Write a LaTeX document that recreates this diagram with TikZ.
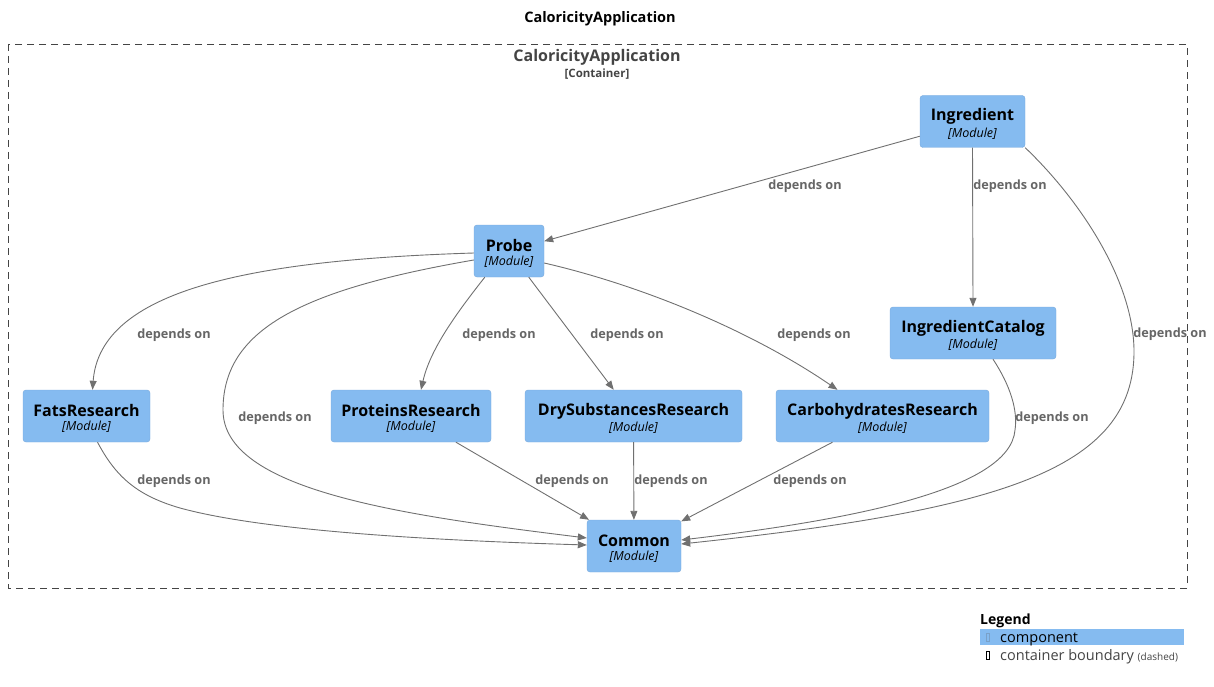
\documentclass[tikz,border=0pt]{standalone}
\usepackage{fontspec}
\setmainfont{Open Sans}
\usetikzlibrary{arrows.meta,calc}
\definecolor{nodeblue}{HTML}{85BBF0}
\definecolor{nodeedge}{HTML}{78A9DC}
\definecolor{edgegray}{HTML}{707070}
\definecolor{labelgray}{HTML}{666666}
\definecolor{boundgray}{HTML}{444444}
\tikzset{
  module/.style={draw=nodeedge, line width=0.4pt, fill=nodeblue, rounded corners=3pt,
    minimum height=52pt, inner sep=0pt, align=center, text=black},
  dep/.style={draw=edgegray, line width=0.9pt, -{Triangle[length=9pt,width=7pt]}},
  deplabel/.style={font=\fontsize{12.7}{14}\selectfont\bfseries, text=labelgray, inner sep=0pt},
}
\newcommand{\modtext}[1]{{\fontsize{16}{18}\selectfont\bfseries\rule{0pt}{17pt}#1}\\[2pt]{\fontsize{12.5}{13}\selectfont\itshape [Module]}}
\begin{document}
\begin{tikzpicture}[x=1pt,y=-1pt]
\useasboundingbox (0,0) rectangle (1214,687);
% title
\node[font=\fontsize{14.5}{16}\selectfont\bfseries, text=black, inner sep=0pt] (title) at (600,19) {CaloricityApplication};
% container boundary
\draw[boundgray, line width=0.8pt, dash pattern=on 7pt off 5pt] (8,44) rectangle (1187,588);
\node[font=\fontsize{16}{18}\selectfont\bfseries, text=boundgray, inner sep=0pt] (ctitle) at (597,57) {CaloricityApplication};
\node[font=\fontsize{11.5}{13}\selectfont\bfseries, text=boundgray, inner sep=0pt] (ctype) at (597,74) {[Container]};
% nodes
\node[module, minimum width=105pt] (ing) at (972.5,121.5) {\modtext{Ingredient}};
\node[module, minimum width=70pt] (probe) at (509,251) {\modtext{Probe}};
\node[module, minimum width=166pt] (ingcat) at (973,333) {\modtext{IngredientCatalog}};
\node[module, minimum width=127pt] (fats) at (86.5,416) {\modtext{FatsResearch}};
\node[module, minimum width=160pt] (prot) at (411,416) {\modtext{ProteinsResearch}};
\node[module, minimum width=217pt] (dry) at (633.5,416) {\modtext{DrySubstancesResearch}};
\node[module, minimum width=213pt] (carb) at (882.5,416) {\modtext{CarbohydratesResearch}};
\node[module, minimum width=94pt] (common) at (634,546) {\modtext{Common}};
% edges
\draw[dep] (ing) -- (probe);
\draw[dep] (ing.south) -- (ingcat.north);
\draw[dep] (ing.south east) .. controls (1080,200) and (1133,280) .. (1134,350)
  .. controls (1135,470) and (1000,510) .. ($(common.east)+(0,-2)$);
\draw[dep] ($(probe.west)+(0,2)$) .. controls (250,260) and (100,290) .. ($(fats.north)+(6,0)$);
\draw[dep] ($(probe.south west)+(11,0)$) .. controls (455,315) and (430,350) .. ($(prot.north)+(10,0)$);
\draw[dep] (probe) -- (dry);
\draw[dep] ($(probe.east)+(0,12)$) .. controls (640,285) and (750,330) .. ($(carb.north)+(-45,0)$);
\draw[dep] ($(probe.west)+(0,9)$) .. controls (300,290) and (223,330) .. (223,410)
  .. controls (223,490) and (400,515) .. ($(common.west)+(0,-8)$);
\draw[dep] ($(ingcat.south)+(20,0)$) .. controls (1010,385) and (1018,410) .. (1015,430)
  .. controls (1010,490) and (850,520) .. ($(common.east)+(0,-6)$);
\draw[dep] ($(fats.south)+(11,0)$) .. controls (115,475) and (135,495) .. (180,508)
  .. controls (260,530) and (420,540) .. ($(common.west)+(0,-1)$);
\draw[dep] (prot) -- (common);
\draw[dep] (dry) -- (common);
\draw[dep] (carb) -- (common);
% edge labels
\node[deplabel] (l1) at (805,186) {depends on};
\node[deplabel] (l2) at (1010,186) {depends on};
\node[deplabel] (l3) at (1170,334) {depends on};
\node[deplabel] (l4) at (174,335) {depends on};
\node[deplabel] (l5) at (499,335) {depends on};
\node[deplabel] (l6) at (627,335) {depends on};
\node[deplabel] (l7) at (814,335) {depends on};
\node[deplabel] (l8) at (275,418) {depends on};
\node[deplabel] (l9) at (1052,418) {depends on};
\node[deplabel] (l10) at (174,481) {depends on};
\node[deplabel] (l11) at (572,481) {depends on};
\node[deplabel] (l12) at (671,481) {depends on};
\node[deplabel] (l13) at (810,481) {depends on};
% legend
\node[font=\fontsize{14}{16}\selectfont\bfseries, text=black, inner sep=0pt, anchor=west] (legend) at (980,621) {Legend};
\fill[nodeblue] (980,629) rectangle (1184,645);
\draw[color=nodeedge!80!gray, line width=0.5pt] (986,633) rectangle (989.5,641);
\node[font=\fontsize{14.5}{16}\selectfont, text=black, inner sep=0pt, anchor=base west] (lcomp) at (1000,642) {component};
\draw[color=black, line width=0.5pt] (986,651) rectangle (989.5,659);
\node[font=\fontsize{14.5}{16}\selectfont, text=boundgray, inner sep=0pt, anchor=base west] (lbound) at (1000,660) {container boundary {\fontsize{10}{12}\selectfont (dashed)}};
\end{tikzpicture}
\end{document}
